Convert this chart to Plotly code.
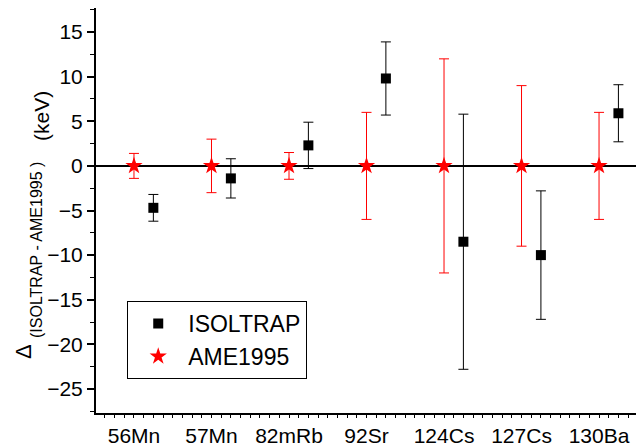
import plotly.graph_objects as go

# ---- data ----
nuclides = ["56Mn", "57Mn", "82mRb", "92Sr", "124Cs", "127Cs", "130Ba"]
isoltrap_values = [-4.7, -1.4, 2.3, 9.8, -8.5, -10.0, 5.9]
isoltrap_errors = [1.5, 2.2, 2.6, 4.1, 14.3, 7.2, 3.2]
ame_values = [0, 0, 0, 0, 0, 0, 0]
ame_errors = [1.4, 3.0, 1.5, 6.0, 12.0, 9.0, 6.0]
y_ticks = [-25, -20, -15, -10, -5, 0, 5, 10, 15]

positions = list(range(1, len(nuclides) + 1))
shift = 0.25
iso_positions = [p + shift for p in positions]

FONT = "Liberation Sans, Arial, sans-serif"

fig = go.Figure()

fig.add_trace(go.Scatter(
    x=iso_positions, y=isoltrap_values, mode="markers", name="ISOLTRAP",
    marker=dict(symbol="square", size=10, color="black"),
    error_y=dict(type="data", array=isoltrap_errors, visible=True,
                 color="black", thickness=1, width=5),
))
fig.add_trace(go.Scatter(
    x=positions, y=ame_values, mode="markers", name="AME1995",
    marker=dict(symbol="star", size=13, color="red", line=dict(width=0)),
    error_y=dict(type="data", array=ame_errors, visible=True,
                 color="red", thickness=1, width=5),
))

# page body has an 8px default margin: size the figure so the plot area
# lands at screen x 96..644, y 8..413
fig.update_layout(
    width=636, height=440,
    margin=dict(l=88, r=0, t=0, b=35, autoexpand=False),
    paper_bgcolor="white", plot_bgcolor="white",
    font=dict(family=FONT, size=21, color="black"),
    showlegend=True,
    legend=dict(
        x=0.057, y=(413 - 340) / 405.0, xanchor="left", yanchor="middle",
        bgcolor="white", bordercolor="black", borderwidth=1,
        font=dict(size=23, family=FONT),
        itemwidth=50, tracegroupgap=0,
    ),
)

fig.update_xaxes(
    range=[0.51, 7.58],
    tickmode="array", tickvals=positions, ticktext=nuclides,
    showline=True, linecolor="black", linewidth=1.5,
    mirror="allticks",
    ticks="outside", ticklen=3, tickcolor="black", tickwidth=1,
    minor=dict(dtick=0.125, ticks="outside", ticklen=3, tickcolor="black", tickwidth=1),
    showgrid=False, zeroline=False, automargin=False,
    tickfont=dict(size=21, family=FONT),
)
fig.update_yaxes(
    range=[-27.7, 17.7],
    tickmode="array", tickvals=y_ticks,
    showline=True, linecolor="black", linewidth=2,
    ticks="outside", ticklen=7, tickcolor="black", tickwidth=1.5,
    minor=dict(dtick=2.5, ticks="outside", ticklen=4, tickcolor="black", tickwidth=1),
    showgrid=False, automargin=False,
    zeroline=True, zerolinecolor="black", zerolinewidth=1.5,
    tickfont=dict(size=21, family=FONT),
)

# y-axis title as rotated annotations (positions given in screen pixels)
def px_x(px):
    return (px - 96) / 548.0

def px_y(py):
    return (413 - py) / 405.0

fig.add_annotation(text="Δ", x=px_x(23), y=px_y(352), xref="paper", yref="paper",
                   textangle=-90, showarrow=False, font=dict(size=22, family=FONT),
                   xanchor="center", yanchor="middle")
fig.add_annotation(text="(ISOLTRAP - AME1995 )", x=px_x(36), y=px_y(250), xref="paper", yref="paper",
                   textangle=-90, showarrow=False, font=dict(size=16, family=FONT),
                   xanchor="center", yanchor="middle")
fig.add_annotation(text="(keV)", x=px_x(41), y=px_y(116), xref="paper", yref="paper",
                   textangle=-90, showarrow=False, font=dict(size=21, family=FONT),
                   xanchor="center", yanchor="middle")

fig.write_html("out.html")
